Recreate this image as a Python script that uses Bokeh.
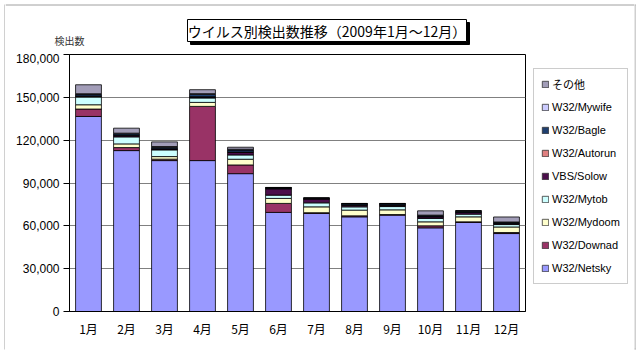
import numpy as np
from bokeh.plotting import figure
from bokeh.layouts import column, row
from bokeh.models import (ColumnDataSource, FactorRange, Range1d, NumeralTickFormatter,
                          Legend, LegendItem, FixedTicker)
from bokeh.core.properties import value
from bokeh.embed import file_html
from bokeh.resources import INLINE

months = ["1月", "2月", "3月", "4月", "5月", "6月", "7月", "8月", "9月", "10月", "11月", "12月"]
series = ["W32/Netsky", "W32/Downad", "W32/Mydoom", "W32/Mytob", "VBS/Solow",
          "W32/Autorun", "W32/Bagle", "W32/Mywife", "その他"]
netsky  = [136600, 112700, 105700, 105700, 96550, 69400, 68700, 66300, 67500, 58600, 62400, 54600]
downad  = [5200, 2100, 1000, 37950, 6100, 6300, 500, 700, 400, 1400, 400, 700]
mydoom  = [3000, 2600, 1800, 2800, 4000, 3500, 4100, 4000, 3300, 2800, 3500, 3900]
mytob   = [5400, 4900, 4700, 3100, 3000, 2300, 2800, 2300, 2300, 2400, 1900, 1700]
solow   = [500, 800, 600, 600, 1700, 4400, 2700, 1100, 900, 1100, 1100, 700]
autorun = [300, 300, 200, 300, 300, 300, 200, 200, 200, 200, 200, 200]
bagle   = [1000, 1000, 1000, 1600, 1400, 400, 300, 800, 800, 700, 700, 600]
mywife  = [500, 500, 500, 500, 600, 200, 200, 200, 200, 300, 300, 300]
other   = [6300, 3500, 3300, 2800, 1400, 100, 100, 100, 100, 3000, 100, 3500]
y_ticks = [0, 30000, 60000, 90000, 120000, 150000, 180000]
title_text = "ウイルス別検出数推移（2009年1月～12月）"
y_title = "検出数"

colors = ["#9999FF", "#993366", "#FFFFCC", "#CCFFFF", "#4B0F4B",
          "#E08080", "#1F3F6F", "#CCCCFF", "#A29DB8"]
BORDER = "#a0a0a0"

keys = ["s%d" % i for i in range(len(series))]
data = {"month": months}
for k, vals in zip(keys, [netsky, downad, mydoom, mytob, solow, autorun, bagle, mywife, other]):
    data[k] = vals
source = ColumnDataSource(data)

FONT = "Liberation Sans, Noto Sans CJK JP, sans-serif"
JFONT = "Noto Sans CJK JP, sans-serif"


def blank(w, h, x0, x1, y0, y1):
    f = figure(width=w, height=h, x_range=Range1d(x0, x1), y_range=Range1d(y1, y0),
               output_backend="svg", toolbar_location=None, x_axis_type=None, y_axis_type=None,
               min_border=0)
    f.outline_line_color = None
    f.grid.grid_line_color = None
    f.background_fill_color = "white"
    f.border_fill_color = "white"
    return f


# ---- outer border strips (full height)
left_strip = blank(5, 354, 0, 5, 0, 354)
left_strip.segment(x0=[4.5], y0=[4], x1=[4.5], y1=[349], line_color=BORDER, line_width=1)
right_strip = blank(6, 354, 634, 640, 0, 354)
right_strip.segment(x0=[634, 634.5, 634], y0=[4.5, 4, 348.5], x1=[635, 634.5, 635], y1=[4.5, 349, 348.5],
                    line_color=BORDER, line_width=1)

# ---- header: canvas x 5..634, y 0..53
header = blank(629, 53, 5, 634, 0, 53)
header.segment(x0=[5], y0=[4.5], x1=[634], y1=[4.5], line_color=BORDER, line_width=1)
header.quad(left=[190], right=[469], top=[22], bottom=[44], fill_color="black", line_color="black")
header.quad(left=[187], right=[466], top=[19], bottom=[41], fill_color="white", line_color="black",
            line_width=1)
header.text(x=[326.5], y=[30.5], text=[title_text], text_font=value(JFONT), text_font_size="14px",
            text_color="black", text_align="center", text_baseline="middle")
header.text(x=[69], y=[40], text=[y_title], text_font=value(JFONT), text_font_size="10px",
            text_color="#333333", text_align="center", text_baseline="middle")

# ---- footer: canvas x 5..634, y 348..354
footer = blank(629, 6, 5, 634, 348, 354)
footer.segment(x0=[5], y0=[348.5], x1=[634], y1=[348.5], line_color=BORDER, line_width=1)

# ---- main chart: canvas x 5..526, y 53..348
p = figure(width=521, height=295, x_range=FactorRange(*months), y_range=Range1d(0, 180000),
           output_backend="svg", toolbar_location=None,
           min_border_left=64, min_border_right=1, min_border_top=1, min_border_bottom=37)
p.background_fill_color = "white"
p.border_fill_color = "white"
p.outline_line_color = "black"
p.outline_line_width = 1

renderers = p.vbar_stack(keys, x="month", width=0.68, source=source, color=colors,
                         line_color="black", line_width=0.8)

p.xgrid.grid_line_color = None
p.ygrid.grid_line_color = "#808080"
p.ygrid.grid_line_width = 1
p.yaxis.ticker = FixedTicker(ticks=y_ticks)
p.yaxis.formatter = NumeralTickFormatter(format="0,0")
p.yaxis.major_tick_out = 6
p.yaxis.major_tick_in = 0
p.yaxis.minor_tick_line_color = None
p.yaxis.axis_line_color = "black"
p.yaxis.major_tick_line_color = "black"
p.yaxis.major_label_text_font = FONT
p.yaxis.major_label_text_font_size = "12px"
p.yaxis.major_label_text_color = "black"
p.yaxis.major_label_standoff = 4

p.xaxis.major_tick_out = 0
p.xaxis.major_tick_in = 0
p.xaxis.axis_line_color = "black"
p.xaxis.major_label_text_font = JFONT
p.xaxis.major_label_text_font_size = "12px"
p.xaxis.major_label_text_color = "black"
p.xaxis.major_label_standoff = 8

# ---- legend panel next to the chart (its frame lines up with the chart's frame)
lg = blank(108, 295, 526, 634, 53, 348)
hidden = ColumnDataSource(dict(x=np.array([np.nan]), top=np.array([np.nan])))
swatches = [lg.vbar(x="x", top="top", width=1, source=hidden, fill_color=c, line_color="#333333",
                    line_width=0.8) for c in colors]
items = [LegendItem(label=series[i], renderers=[swatches[i]]) for i in reversed(range(len(series)))]
legend = Legend(items=items, location=(7, 27))
legend.label_text_font = FONT
legend.label_text_font_size = "11px"
legend.label_text_color = "black"
legend.glyph_height = 8
legend.glyph_width = 8
legend.label_height = 16
legend.spacing = 7
legend.padding = 7
legend.margin = 0
legend.label_standoff = 3
legend.border_line_color = "#999999"
legend.background_fill_color = "white"
legend.background_fill_alpha = 1
lg.add_layout(legend)

middle = column(header, row(p, lg, spacing=0), footer, spacing=0)
layout = row(left_strip, middle, right_strip, spacing=0)

open("out.html", "w").write(file_html(layout, INLINE))
